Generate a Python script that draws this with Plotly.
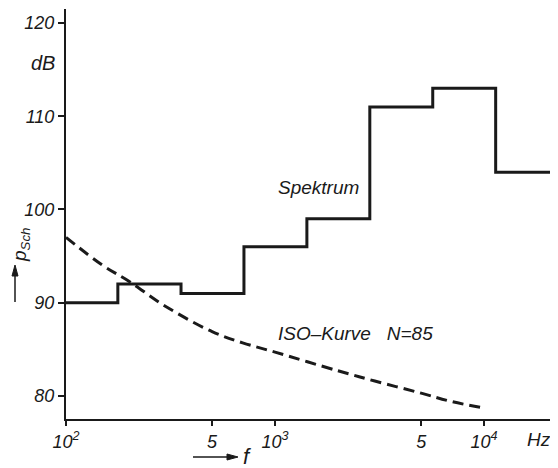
import plotly.graph_objects as go

# Octave-band spectrum (band edges in Hz, levels in dB)
band_edges = [100, 177, 355, 710, 1420, 2840, 5680, 11360, 22000]
band_levels = [90, 92, 91, 96, 99, 111, 113, 104]

# ISO curve N=85
iso_freq = [100, 150, 200, 300, 500, 700, 1000, 2000, 3000, 5000, 7000, 10000]
iso_level = [97.0, 94.0, 92.3, 89.6, 86.9, 85.7, 84.7, 82.7, 81.6, 80.3, 79.4, 78.7]

x_tickvals = [100, 500, 1000, 5000, 10000]
x_ticktext = ["10<sup>2</sup>", "5", "10<sup>3</sup>", "5", "10<sup>4</sup>"]
y_tickvals = [80, 90, 100, 110, 120]

FONT = "Liberation Sans"
ink = "#1a1a1a"

fig = go.Figure()
fig.add_trace(go.Scatter(
    x=band_edges, y=band_levels + [band_levels[-1]],
    mode="lines", line=dict(shape="hv", color=ink, width=3),
    showlegend=False, hoverinfo="skip"))
fig.add_trace(go.Scatter(
    x=iso_freq, y=iso_level, mode="lines",
    line=dict(shape="spline", color=ink, width=3, dash="11px,6px"),
    showlegend=False, hoverinfo="skip"))

tickfont = dict(family=FONT, size=18, color=ink, style="italic")

# page is offset by the 8px body margin; plot area = page x 66..556, y 9..419
fig.update_layout(
    width=550, height=460,
    margin=dict(l=58, r=2, t=1, b=49),
    paper_bgcolor="white", plot_bgcolor="white",
    xaxis=dict(type="log", range=[2, 4.344], tickvals=x_tickvals, ticktext=x_ticktext,
               showgrid=False, zeroline=False, showline=True, linecolor=ink, linewidth=2,
               ticks="outside", ticklen=5, tickwidth=1.5, tickcolor=ink, tickfont=tickfont),
    yaxis=dict(range=[77.53, 121.5], tickvals=y_tickvals,
               showgrid=False, zeroline=False, showline=True, linecolor=ink, linewidth=2,
               ticks="outside", ticklen=6, tickwidth=1.5, tickcolor=ink, tickfont=tickfont),
)


def px(x):
    return (x - 66) / 490


def py(y):
    return (419 - y) / 410


def label(text, x, y, size=19, angle=0):
    fig.add_annotation(text=text, x=px(x), y=py(y), xref="paper", yref="paper",
                       xanchor="center", yanchor="middle", showarrow=False, textangle=angle,
                       font=dict(family=FONT, size=size, color=ink, style="italic"))


label("Spektrum", 318, 187)
label("ISO\u2013Kurve\u00a0\u00a0\u00a0N=85", 355, 333)
label("dB", 43, 63, size=20)
label("Hz", 539, 439)
label("f", 247, 456, size=22)
label("p<sub>Sch</sub>", 21, 245, size=19, angle=-90)

# arrows drawn as shapes
fig.add_shape(type="line", xref="paper", yref="paper", x0=px(15), x1=px(15), y0=py(302), y1=py(272),
              line=dict(color=ink, width=1.5))
fig.add_shape(type="path", xref="paper", yref="paper",
              path=f"M {px(15)} {py(265)} L {px(12)} {py(276)} L {px(18)} {py(276)} Z",
              fillcolor=ink, line=dict(color=ink, width=1))
fig.add_shape(type="line", xref="paper", yref="paper", x0=px(193), x1=px(230), y0=py(457), y1=py(457),
              line=dict(color=ink, width=1.5))
fig.add_shape(type="path", xref="paper", yref="paper",
              path=f"M {px(238)} {py(457)} L {px(227)} {py(454)} L {px(227)} {py(460)} Z",
              fillcolor=ink, line=dict(color=ink, width=1))

fig.write_html("out.html")
